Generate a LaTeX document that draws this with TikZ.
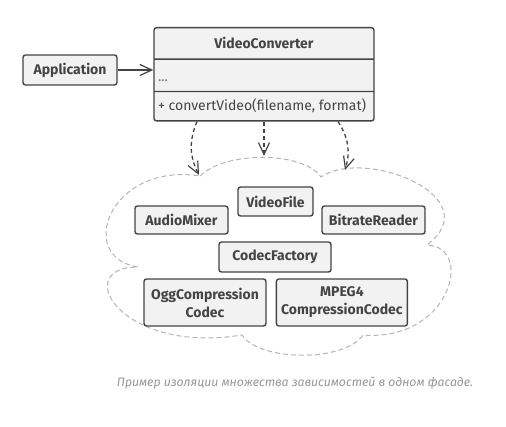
\documentclass[tikz,border=0pt]{standalone}
\usepackage{fontspec}
\setmainfont{Fira Sans}
\usetikzlibrary{arrows.meta, positioning, shapes.multipart}
\definecolor{linegray}{RGB}{68,68,68}
\definecolor{boxfill}{RGB}{242,242,242}
\definecolor{cloudgray}{RGB}{180,180,180}
\definecolor{captiongray}{RGB}{150,150,150}
\definecolor{dotgray}{RGB}{120,120,120}

\begin{document}
\begin{tikzpicture}[
    x=1pt, y=1pt,
    node distance=9pt,
    box/.style={draw=linegray, fill=boxfill, line width=1.4pt, rounded corners=2.5pt, inner sep=0pt, font=\fontsize{14}{18}\selectfont\bfseries, text=linegray, align=center},
    cls/.style={rectangle split, rectangle split parts=3, rectangle split part align={center,left,left}, draw=linegray, fill=boxfill, line width=1.4pt, rounded corners=2.5pt, inner ysep=0pt, inner xsep=4pt, minimum width=220pt, text=linegray, font=\fontsize{14}{16}\selectfont},
    arr/.style={-{Straight Barb[length=12pt, width=11pt, line width=1.2pt]}, line width=1.3pt, linegray},
    dep/.style={arr, dash pattern=on 4pt off 3pt},
    cloudline/.style={cloudgray, line width=1pt, dash pattern=on 5pt off 3pt}
  ]
  \useasboundingbox (0,0) rectangle (506,427);

  % facade class
  \node[cls, anchor=north] (vc) at (264,400) {\rule[-10pt]{0pt}{30pt}\textbf{VideoConverter}
    \nodepart{two}\rule[-9pt]{0pt}{31pt}\textcolor{dotgray}{...}
    \nodepart{three}\rule[-10pt]{0pt}{28pt}+ convertVideo(filename, format)};
  \node[box, minimum width=94pt, minimum height=30pt] (app) at (70,357) {Application};
  \draw[arr] (app.east) -- (app.east -| vc.west);

  % subsystem cloud
  \coordinate (p1) at (200,251);
  \coordinate (p2) at (321,250);
  \coordinate (p3) at (427,182);
  \coordinate (p4) at (363,92);
  \coordinate (p5) at (242,92);
  \coordinate (p6) at (138,160);
  \draw[cloudline] (p1) .. controls (225,276) and (303,276) .. (p2)
    .. controls (365,280) and (490,230) .. (p3)
    .. controls (475,180) and (450,85) .. (p4)
    .. controls (345,65) and (260,65) .. (p5)
    .. controls (120,72) and (70,160) .. (p6)
    .. controls (75,170) and (110,265) .. (p1);

  \node[box, minimum width=75pt, minimum height=29pt] (videofile) at (275.5,225.5) {VideoFile};
  \node[box, minimum width=93pt, minimum height=28pt] (mixer) at (181.5,207) {AudioMixer};
  \node[box, minimum width=103pt, minimum height=28pt] (bitrate) at (373.5,207) {BitrateReader};
  \node[box, minimum width=112pt, minimum height=30pt] (factory) at (275,170) {CodecFactory};
  \node[box, minimum width=122pt, minimum height=47pt] (ogg) at (205,124.5) {OggCompression\\Codec};
  \node[box, minimum width=131pt, minimum height=47pt, right=of ogg] (mpeg) {MPEG4\\CompressionCodec};

  % dependencies
  \coordinate (inL) at (199,252);
  \coordinate (inM) at (264,271);
  \coordinate (inR) at (345,257);
  \draw[dep] ([xshift=-67pt]vc.south) to[bend right=25] (inL);
  \draw[dep] (vc.south) -- (inM);
  \draw[dep] ([xshift=74pt]vc.south) to[bend left=25] (inR);

  \node[font=\fontsize{12.2}{14}\selectfont\itshape, text=captiongray] (caption) at (295,44) {Пример изоляции множества зависимостей в одном фасаде.};
\end{tikzpicture}
\end{document}
